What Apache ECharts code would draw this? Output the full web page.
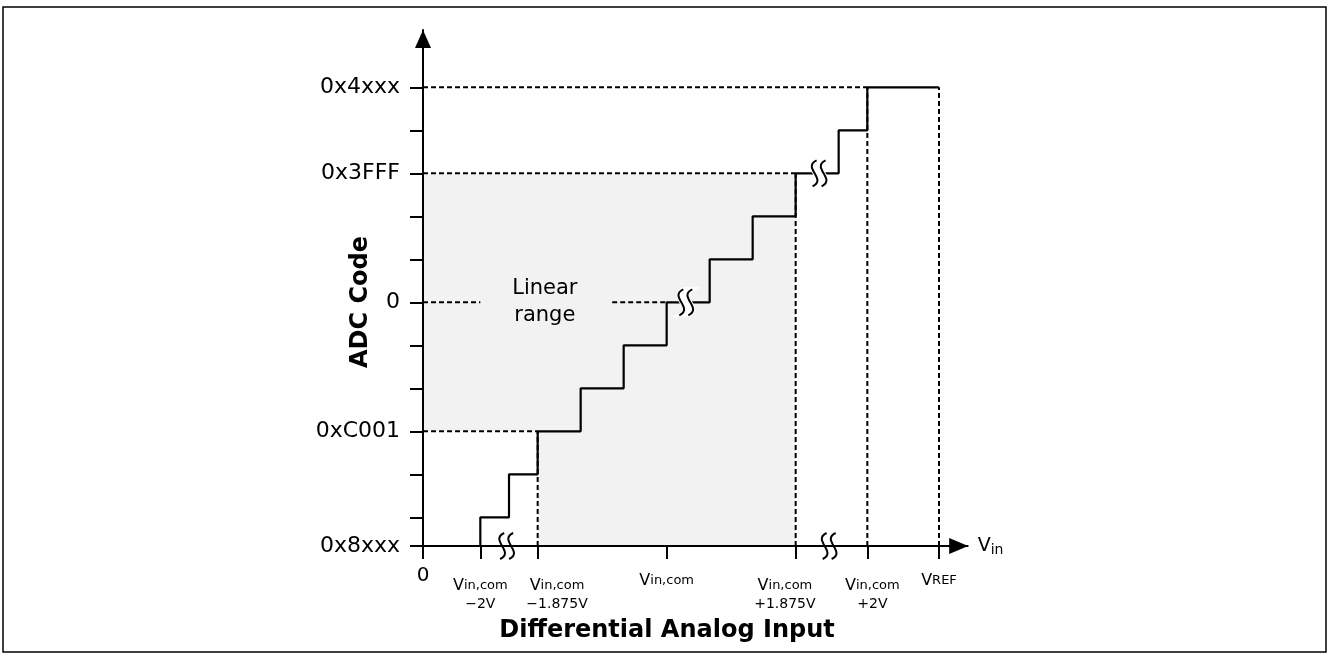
<!DOCTYPE html>
<html>
<head>
<meta charset="utf-8">
<script src="https://cdn.jsdelivr.net/npm/echarts@6/dist/echarts.min.js"></script>
<style>html,body{margin:0;padding:0;background:#fff}#c{width:1328px;height:659px}</style>
</head>
<body>
<div id="c"></div>
<script>
// ---- data (units: one third of an ADC code step) ----
const xTickValues = [0, 4, 8, 17, 26, 31, 36];
const xZeroLabel = '0';
const xTwoLineLabelPos = [4, 9.35, 25.25, 31.35];
const xTwoLineSub = ['in,com', 'in,com', 'in,com', 'in,com'];
const xTwoLineOffsets = ['−2V', '−1.875V', '+1.875V', '+2V'];
const xSingleLabelPos = [17, 36];
const xSingleSub = ['in,com', 'REF'];
const yTickValues = [0, 2, 5, 8, 11, 14, 17, 20, 23, 26, 29, 32];
const yLabelValues = [0, 8, 17, 26, 32];
const yLabels = ['0x8xxx', '0xC001', '0', '0x3FFF', '0x4xxx'];
const stepX = [4, 6, 8, 11, 14, 17, 20, 23, 26, 29, 31, 36];
const stepY = [0, 2, 5, 8, 11, 14, 17, 20, 23, 26, 29, 32];
const dashSegments = [
  [0, 32, 31, 32], [0, 26, 26, 26], [0, 17, 4, 17], [13.2, 17, 17, 17], [0, 8, 8, 8],
  [8, 0, 8, 8], [26, 0, 26, 26], [31, 0, 31, 32], [36, 0, 36, 32]
];
const grayRegion = [[0, 8], [0, 26], [26, 26], [26, 0], [8, 0], [8, 8]];
const breakMarks = [[5.8, 0, 0], [28.3, 0, 0], [18.3, 17, 1], [27.6, 26, 1]];
const rangeLabelPos = [[8.5, 17]];
const rangeLabel = 'Linear\nrange';
const xMax = 38, yMax = 36;

const FONT = 'DejaVu Sans';
const chart = echarts.init(document.getElementById('c'));

const stepData = stepX.map((x, i) => [x, stepY[i]]);

function sPath(cx, cy) {
  return {x1: cx + 2, y1: cy - 13, cpx1: cx - 13, cpy1: cy - 6, cpx2: cx + 13, cpy2: cy + 6, x2: cx - 2, y2: cy + 13};
}

const option = {
  backgroundColor: '#fff',
  animation: false,
  grid: {left: 423, right: 1328 - 423 - 14.3333 * xMax, top: 30, bottom: 113, containLabel: false},
  xAxis: [
    {
      type: 'value', min: 0, max: xMax, position: 'bottom', z: 5,
      axisLine: {show: true, lineStyle: {color: '#000', width: 2}, symbol: ['none', 'triangle'], symbolSize: [16, 19], symbolOffset: [0, -9]},
      axisTick: {show: true, customValues: xTickValues, length: 13, lineStyle: {color: '#000', width: 2}},
      axisLabel: {show: true, customValues: [0], margin: 20, hideOverlap: false, formatter: () => xZeroLabel, color: '#000', fontSize: 20, fontFamily: FONT},
      splitLine: {show: false},
      name: '{v|V}{s|in}', nameLocation: 'end', nameGap: 10,
      nameTextStyle: {rich: {
        v: {fontSize: 19, fontFamily: FONT, color: '#000', lineHeight: 22},
        s: {fontSize: 14, fontFamily: FONT, color: '#000', lineHeight: 22, verticalAlign: 'bottom', padding: [6, 0, 0, 0]}
      }}
    },
    {
      type: 'value', min: 0, max: xMax, position: 'bottom', z: 5,
      axisLine: {show: false}, axisTick: {show: false}, splitLine: {show: false},
      axisLabel: {
        show: true, customValues: xTwoLineLabelPos, margin: 30, hideOverlap: false,
        formatter: function (v) {
          const i = xTwoLineLabelPos.indexOf(v);
          return i < 0 ? '' : '{v|V}{s|' + xTwoLineSub[i] + '}\n{b|' + xTwoLineOffsets[i] + '}';
        },
        rich: {
          v: {fontSize: 16, fontFamily: FONT, color: '#000', lineHeight: 19},
          s: {fontSize: 13, fontFamily: FONT, color: '#000', lineHeight: 19},
          b: {fontSize: 14, fontFamily: FONT, color: '#000', lineHeight: 18}
        }
      }
    },
    {
      type: 'value', min: 0, max: xMax, position: 'bottom', z: 5,
      axisLine: {show: false}, axisTick: {show: false}, splitLine: {show: false},
      axisLabel: {
        show: true, customValues: xSingleLabelPos, margin: 25, hideOverlap: false,
        formatter: function (v) {
          const i = xSingleLabelPos.indexOf(v);
          return i < 0 ? '' : '{v|V}{s|' + xSingleSub[i] + '}';
        },
        rich: {
          v: {fontSize: 16, fontFamily: FONT, color: '#000', lineHeight: 19},
          s: {fontSize: 13, fontFamily: FONT, color: '#000', lineHeight: 19}
        }
      }
    }
  ],
  yAxis: {
    type: 'value', min: 0, max: yMax, z: 5,
    axisLine: {show: true, lineStyle: {color: '#000', width: 2}, symbol: ['none', 'triangle'], symbolSize: [16, 18], symbolOffset: [0, -9]},
    axisTick: {show: true, customValues: yTickValues, length: 13, lineStyle: {color: '#000', width: 2}},
    axisLabel: {
      show: true, customValues: yLabelValues, margin: 23, hideOverlap: false, color: '#000', fontSize: 22, fontFamily: FONT,
      formatter: function (v) { const i = yLabelValues.indexOf(v); return i < 0 ? '' : yLabels[i]; }
    },
    splitLine: {show: false}
  },
  graphic: [
    {type: 'rect', shape: {x: 3, y: 7, width: 1323, height: 645}, style: {fill: 'none', stroke: '#000', lineWidth: 1.5}, z: 0},
    {type: 'text', x: 361, y: 302, rotation: Math.PI / 2,
      style: {text: 'ADC Code', fontSize: 24, fontWeight: 'bold', fontFamily: FONT, fill: '#000', align: 'center', verticalAlign: 'middle'}},
    {type: 'text', x: 667, y: 631,
      style: {text: 'Differential Analog Input', fontSize: 24, fontWeight: 'bold', fontFamily: FONT, fill: '#000', align: 'center', verticalAlign: 'middle'}}
  ],
  series: [
    {
      type: 'custom', z: 1, silent: true, clip: false,
      data: [[0, 0]],
      renderItem: function (params, api) {
        return {type: 'polygon', shape: {points: grayRegion.map(p => api.coord(p))}, style: {fill: '#f2f2f2'}};
      }
    },
    {
      type: 'custom', z: 2, silent: true, clip: false,
      data: dashSegments,
      renderItem: function (params, api) {
        const a = api.coord([api.value(0), api.value(1)]);
        const b = api.coord([api.value(2), api.value(3)]);
        return {type: 'line', shape: {x1: a[0], y1: a[1], x2: b[0], y2: b[1]},
          style: {stroke: '#000', lineWidth: 2, lineDash: [5, 3]}};
      }
    },
    {
      type: 'line', z: 3, step: 'start', data: stepData, symbol: 'none', silent: true,
      lineStyle: {color: '#000', width: 2.2}
    },
    {
      type: 'custom', z: 3, silent: true, clip: false,
      data: rangeLabelPos,
      renderItem: function (params, api) {
        const p = api.coord([api.value(0), api.value(1)]);
        return {type: 'text', x: p[0], y: p[1],
          style: {text: rangeLabel, fontSize: 21, fontFamily: FONT, fill: '#000', align: 'center', verticalAlign: 'middle', lineHeight: 27}};
      }
    },
    {
      type: 'custom', z: 10, silent: true, clip: false,
      data: breakMarks,
      renderItem: function (params, api) {
        const p = api.coord([api.value(0), api.value(1)]);
        const mask = api.value(2) === 1;
        const L = sPath(p[0] - 4, p[1]);
        const R = sPath(p[0] + 5, p[1]);
        const children = [];
        if (mask) {
          const d = 'M' + L.x1 + ' ' + L.y1 + ' C' + L.cpx1 + ' ' + L.cpy1 + ' ' + L.cpx2 + ' ' + L.cpy2 + ' ' + L.x2 + ' ' + L.y2 +
            ' L' + R.x2 + ' ' + R.y2 + ' C' + R.cpx2 + ' ' + R.cpy2 + ' ' + R.cpx1 + ' ' + R.cpy1 + ' ' + R.x1 + ' ' + R.y1 + ' Z';
          children.push({type: 'path', shape: {pathData: d}, style: {fill: '#fff', stroke: '#fff', lineWidth: 4}});
        }
        children.push({type: 'bezierCurve', shape: L, style: {stroke: '#000', lineWidth: 2, fill: null}});
        children.push({type: 'bezierCurve', shape: R, style: {stroke: '#000', lineWidth: 2, fill: null}});
        return {type: 'group', children: children};
      }
    }
  ]
};
chart.setOption(option);
</script>
</body>
</html>
